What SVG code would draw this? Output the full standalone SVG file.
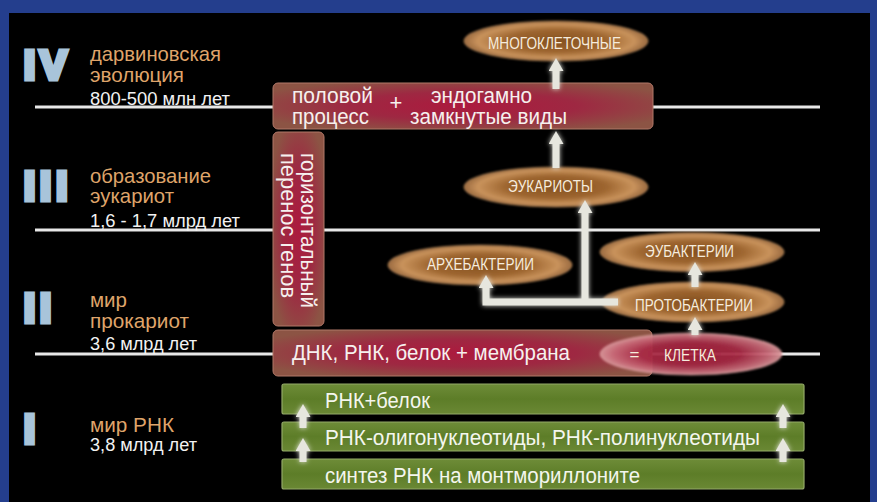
<svg xmlns="http://www.w3.org/2000/svg" width="877" height="502" viewBox="0 0 877 502">
<defs>
<style>
.t{font-family:"Liberation Sans Narrow","Liberation Sans","DejaVu Sans Condensed",sans-serif;}
.or{fill:#dfa46a;font-size:21px;}
.dt{fill:#f2f2f2;font-size:18px;}
.num{font-family:"Liberation Sans",Arial,sans-serif;font-weight:bold;font-size:40px;fill:#a8c4da;stroke:#a8c4da;stroke-width:5;stroke-linejoin:miter;}
.bx{fill:url(#gBox);stroke:#b07868;stroke-width:1;}
.bt{fill:#f6f0ee;font-size:22px;}
.el{fill:url(#gBrown);stroke:#d8a570;stroke-opacity:0.5;stroke-width:1;}
.et{fill:#f6ecdd;font-size:17px;}
.gr{fill:url(#gGreen);stroke:#93aa68;stroke-width:1.2;}
.gt{fill:#f4f6ee;font-size:22px;}
.tl{stroke:#e8e8e8;stroke-width:3;fill:none;}
.cn{stroke:#e6e6de;stroke-width:7;fill:none;marker-end:url(#ah);}
</style>
<radialGradient id="gBox" cx="0.5" cy="0.5" r="0.6">
<stop offset="0" stop-color="#ac1a3e"/>
<stop offset="0.5" stop-color="#9e2842"/>
<stop offset="1" stop-color="#8c5444"/>
</radialGradient>
<radialGradient id="gBrown" cx="0.5" cy="0.5" r="0.5">
<stop offset="0" stop-color="#845020"/>
<stop offset="0.55" stop-color="#9e6630"/>
<stop offset="0.85" stop-color="#c9935c"/>
<stop offset="1" stop-color="#9a6a40"/>
</radialGradient>
<radialGradient id="gRed" cx="0.5" cy="0.5" r="0.5">
<stop offset="0" stop-color="#a01c38"/>
<stop offset="0.55" stop-color="#a82c46"/>
<stop offset="0.85" stop-color="#c86a78"/>
<stop offset="1" stop-color="#d8979a"/>
</radialGradient>
<linearGradient id="gGreen" x1="0" y1="0" x2="0" y2="1">
<stop offset="0" stop-color="#6e8c38"/>
<stop offset="0.5" stop-color="#5d7d28"/>
<stop offset="1" stop-color="#6a8834"/>
</linearGradient>
<filter id="glow" x="-50%" y="-50%" width="200%" height="200%">
<feGaussianBlur in="SourceGraphic" stdDeviation="2.5" result="b"/>
<feMerge><feMergeNode in="b"/><feMergeNode in="SourceGraphic"/></feMerge>
</filter>
<filter id="soft" x="-10%" y="-20%" width="120%" height="140%">
<feGaussianBlur stdDeviation="0.8"/>
</filter>
<marker id="ah" viewBox="0 0 13 15" refX="0" refY="7.5" markerWidth="13" markerHeight="15" markerUnits="userSpaceOnUse" orient="auto">
<path d="M0,0 L13,7.5 L0,15 Z" fill="#e6e6de"/>
</marker>
</defs>

<rect x="0" y="0" width="877" height="502" fill="#243e8d"/>
<rect x="9" y="13" width="861" height="489" fill="#000"/>

<g id="timelines">
<line class="tl" x1="35" y1="107" x2="820" y2="107"/>
<line class="tl" x1="35" y1="230" x2="820" y2="230"/>
<line class="tl" x1="35" y1="354" x2="820" y2="354"/>
</g>

<g id="era-IV">
<text class="num" x="24" y="78.5" letter-spacing="5">IV</text>
<text class="t or" x="90" y="61" textLength="131" lengthAdjust="spacingAndGlyphs">дарвиновская</text>
<text class="t or" x="90" y="82" textLength="94" lengthAdjust="spacingAndGlyphs">эволюция</text>
<text class="t dt" x="90" y="105" textLength="140" lengthAdjust="spacingAndGlyphs">800-500 млн лет</text>
</g>
<g id="era-III">
<text class="num" x="24" y="199.5" letter-spacing="5">III</text>
<text class="t or" x="90" y="183" textLength="121" lengthAdjust="spacingAndGlyphs">образование</text>
<text class="t or" x="90" y="203" textLength="84" lengthAdjust="spacingAndGlyphs">эукариот</text>
<text class="t dt" x="90" y="227" textLength="150" lengthAdjust="spacingAndGlyphs">1,6 - 1,7 млрд лет</text>
</g>
<g id="era-II">
<text class="num" x="24" y="321.5" letter-spacing="5">II</text>
<text class="t or" x="90" y="307" textLength="37" lengthAdjust="spacingAndGlyphs">мир</text>
<text class="t or" x="90" y="328" textLength="99" lengthAdjust="spacingAndGlyphs">прокариот</text>
<text class="t dt" x="90" y="350" textLength="107" lengthAdjust="spacingAndGlyphs">3,6 млрд лет</text>
</g>
<g id="era-I">
<text class="num" x="24" y="442.5">I</text>
<text class="t or" x="90" y="432" textLength="84" lengthAdjust="spacingAndGlyphs">мир РНК</text>
<text class="t dt" x="90" y="451" textLength="107" lengthAdjust="spacingAndGlyphs">3,8 млрд лет</text>
</g>

<g id="sex-process">
<rect class="bx" x="273" y="83" width="380" height="46" rx="5"/>
<text class="t bt" x="292" y="103" textLength="81" lengthAdjust="spacingAndGlyphs">половой</text>
<text class="t bt" x="292" y="124" textLength="77" lengthAdjust="spacingAndGlyphs">процесс</text>
<text class="t bt" x="396" y="110" text-anchor="middle">+</text>
<text class="t bt" x="431" y="103" textLength="101" lengthAdjust="spacingAndGlyphs">эндогамно</text>
<text class="t bt" x="410" y="124" textLength="157" lengthAdjust="spacingAndGlyphs">замкнутые виды</text>
</g>

<g id="horizontal-transfer">
<rect class="bx" x="273" y="132" width="51" height="194" rx="5"/>
<text class="t bt" transform="translate(301,153) rotate(90)" textLength="155" lengthAdjust="spacingAndGlyphs">горизонтальный</text>
<text class="t bt" transform="translate(281,153) rotate(90)" textLength="145" lengthAdjust="spacingAndGlyphs">перенос генов</text>
</g>

<g id="dna-box">
<rect class="bx" x="273" y="330" width="379" height="46" rx="5"/>
<text class="t bt" x="292" y="360" textLength="278" lengthAdjust="spacingAndGlyphs">ДНК, РНК, белок + мембрана</text>
</g>

<g id="multicellular">
<ellipse class="el" cx="556" cy="41" rx="92" ry="20" filter="url(#soft)"/>
<text class="t et" x="488" y="49" textLength="133" lengthAdjust="spacingAndGlyphs">МНОГОКЛЕТОЧНЫЕ</text>
</g>
<g id="eukaryotes">
<ellipse class="el" cx="556" cy="187" rx="92" ry="20" filter="url(#soft)"/>
<text class="t et" x="508" y="192" textLength="85" lengthAdjust="spacingAndGlyphs">ЭУКАРИОТЫ</text>
</g>
<g id="archaebacteria">
<ellipse class="el" cx="480" cy="265" rx="92" ry="20" filter="url(#soft)"/>
<text class="t et" x="427" y="270" textLength="107" lengthAdjust="spacingAndGlyphs">АРХЕБАКТЕРИИ</text>
</g>
<g id="eubacteria">
<ellipse class="el" cx="692" cy="252" rx="92" ry="19.5" filter="url(#soft)"/>
<text class="t et" x="645" y="257" textLength="89" lengthAdjust="spacingAndGlyphs">ЭУБАКТЕРИИ</text>
</g>
<g id="protobacteria">
<ellipse class="el" cx="693" cy="302" rx="91" ry="20" filter="url(#soft)"/>
<text class="t et" x="635" y="311" textLength="118" lengthAdjust="spacingAndGlyphs">ПРОТОБАКТЕРИИ</text>
</g>
<g id="cell">
<ellipse cx="691" cy="354" rx="91" ry="21" fill="url(#gRed)" fill-opacity="0.94" stroke="#e2a8a8" stroke-opacity="0.6" stroke-width="1" filter="url(#soft)"/>
<text class="t et" x="634.5" y="360" text-anchor="middle">=</text>
<text class="t et" x="664" y="361" textLength="52" lengthAdjust="spacingAndGlyphs">КЛЕТКА</text>
</g>

<g id="rna-protein">
<rect class="gr" x="282" y="384" width="522" height="30" rx="2"/>
<text class="t gt" x="325" y="408" textLength="105" lengthAdjust="spacingAndGlyphs">РНК+белок</text>
</g>
<g id="rna-nucleotides">
<rect class="gr" x="282" y="422" width="522" height="29" rx="2"/>
<text class="t gt" x="325" y="445" textLength="435" lengthAdjust="spacingAndGlyphs">РНК-олигонуклеотиды, РНК-полинуклеотиды</text>
</g>
<g id="rna-synthesis">
<rect class="gr" x="282" y="459" width="522" height="30" rx="2"/>
<text class="t gt" x="325" y="483" textLength="315" lengthAdjust="spacingAndGlyphs">синтез РНК на монтмориллоните</text>
</g>

<g id="connectors" filter="url(#glow)">
<path class="cn" d="M556,89 V71"/>
<path class="cn" d="M556,168 V144"/>
<path class="cn" d="M618,302 H486 V288"/>
<path class="cn" d="M585,302 V213"/>
<path class="cn" d="M695,287 V275"/>
<path class="cn" d="M695,335 V330"/>
<path class="cn" d="M303,428 V417"/>
<path class="cn" d="M303,462 V451"/>
<path class="cn" d="M783,428 V417"/>
<path class="cn" d="M783,462 V451"/>
</g>
</svg>
